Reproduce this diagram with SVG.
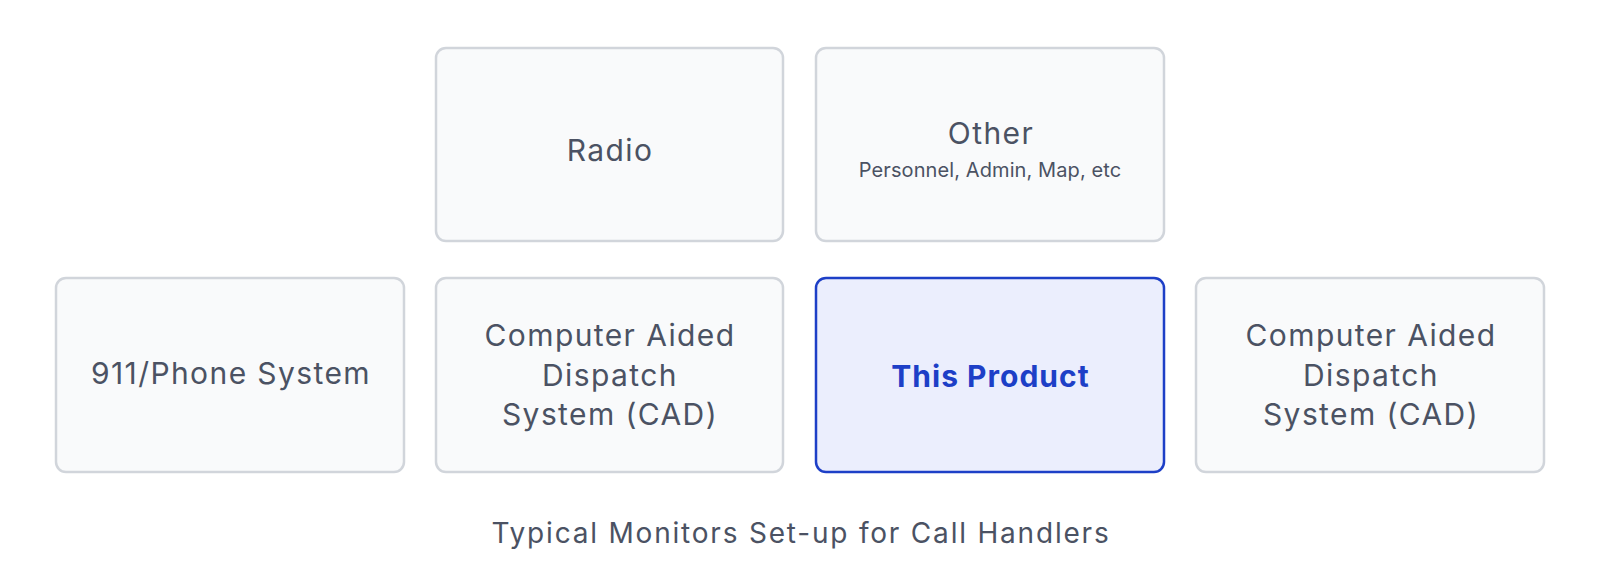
<svg xmlns="http://www.w3.org/2000/svg" width="1600" height="574" viewBox="0 0 1600 574">
<style>
.box{fill:#f9fafb;stroke:#d1d5db;stroke-width:2.5}
.hl{fill:#ebeefd;stroke:#1d3fc7;stroke-width:2.5}
.t{font-family:Inter,"Liberation Sans",sans-serif;font-size:30px;letter-spacing:1.4px;fill:#4b5263;text-anchor:middle}
.s{font-family:Inter,"Liberation Sans",sans-serif;font-size:20px;letter-spacing:0.1px;fill:#4b5263;text-anchor:middle}
.b{font-family:Inter,"Liberation Sans",sans-serif;font-size:30px;font-weight:700;letter-spacing:1px;fill:#1d3fc7;text-anchor:middle}
.cap{font-family:Inter,"Liberation Sans",sans-serif;font-size:28px;letter-spacing:1.8px;fill:#4b5263;text-anchor:middle}
</style>
<rect width="1600" height="574" fill="#ffffff"/>
<g id="radio"><rect class="box" x="436" y="48" width="347" height="193" rx="10"/><text class="t" x="610" y="161">Radio</text></g>
<g id="other"><rect class="box" x="816" y="48" width="348" height="193" rx="10"/><text class="t" x="991" y="144">Other</text><text class="s" x="990" y="177">Personnel, Admin, Map, etc</text></g>
<g id="phone"><rect class="box" x="56" y="278" width="348" height="194" rx="10"/><text class="t" x="231" y="384">911/Phone System</text></g>
<g id="cad1"><rect class="box" x="436" y="278" width="347" height="194" rx="10"/><text class="t" x="610" y="346">Computer Aided</text><text class="t" x="610" y="386">Dispatch</text><text class="t" x="610" y="425">System (CAD)</text></g>
<g id="product"><rect class="hl" x="816" y="278" width="348" height="194" rx="10"/><text class="b" x="990.5" y="387">This Product</text></g>
<g id="cad2"><rect class="box" x="1196" y="278" width="348" height="194" rx="10"/><text class="t" x="1371" y="346">Computer Aided</text><text class="t" x="1371" y="386">Dispatch</text><text class="t" x="1371" y="425">System (CAD)</text></g>
<g id="connectors"></g>
<text class="cap" x="801" y="543">Typical Monitors Set-up for Call Handlers</text>
</svg>
